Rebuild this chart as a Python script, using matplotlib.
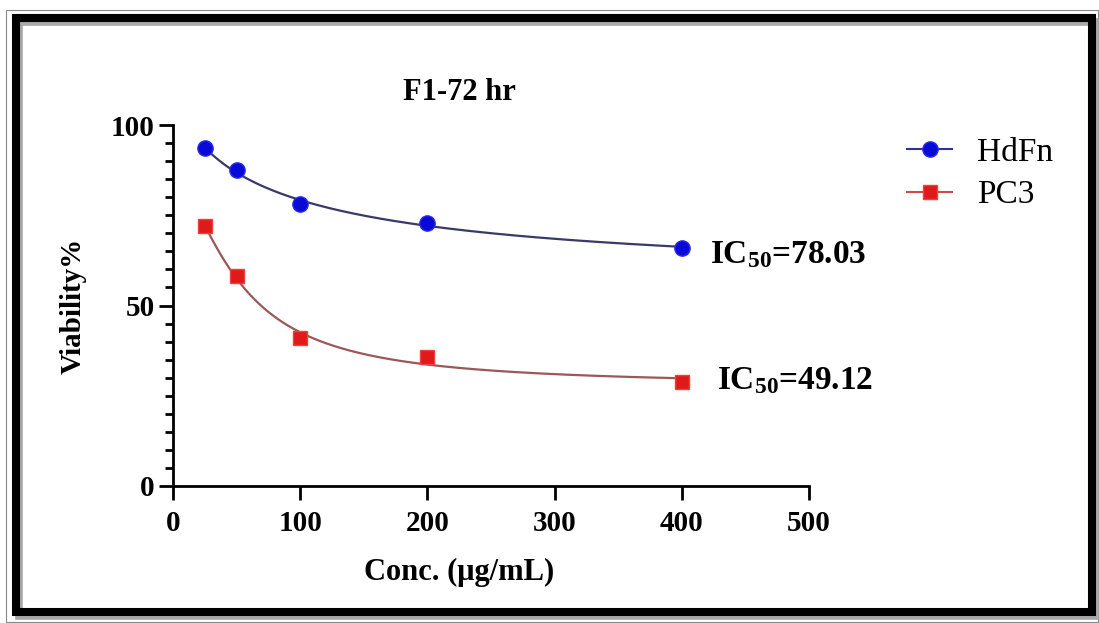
import matplotlib
matplotlib.use("Agg")
import matplotlib.pyplot as plt
from matplotlib.patches import Rectangle
from matplotlib.lines import Line2D
import numpy as np

# data
conc = [25, 50, 100, 200, 400]
hdfn = [93.6, 87.5, 78.1, 72.9, 66.0]
pc3 = [72.0, 58.2, 41.0, 35.7, 28.8]
ic50_hdfn = "78.03"
ic50_pc3 = "49.12"
xticks = [0, 100, 200, 300, 400, 500]
yticks = [0, 50, 100]

plt.rcParams['font.family'] = ['Liberation Serif', 'DejaVu Serif']
plt.rcParams['mathtext.fontset'] = 'custom'
plt.rcParams['mathtext.rm'] = 'Liberation Serif:bold'
plt.rcParams['mathtext.it'] = 'Liberation Serif:bold'
plt.rcParams['mathtext.bf'] = 'Liberation Serif:bold'


def fit_curve(x, y):
    # y = a + b/(1+(x/c)^h); c, h by grid search, a, b by least squares
    x = np.asarray(x, float)
    y = np.asarray(y, float)
    best = None
    for c in np.linspace(5, 400, 200):
        for h in np.linspace(0.5, 3, 51):
            A = np.column_stack([np.ones_like(x), 1 / (1 + (x / c) ** h)])
            coef, _, _, _ = np.linalg.lstsq(A, y, rcond=None)
            sse = np.sum((A @ coef - y) ** 2)
            if best is None or sse < best[0]:
                best = (sse, coef, c, h)
    _, (a, b), c, h = best
    xs = np.linspace(x.min(), x.max(), 300)
    return xs, a + b / (1 + (xs / c) ** h)


W, H = 1099, 623
fig = plt.figure(figsize=(W / 100, H / 100), dpi=100)
fig.patch.set_facecolor('white')

# outer thin line, shadow and thick frame
fig.add_artist(Rectangle((6 / W, 1 - 622 / H), 1092 / W, 612 / H, transform=fig.transFigure,
                         fill=False, ec='#8a8a8a', lw=0.8))
fig.add_artist(Rectangle((19 / W, 1 - 616 / H), 1076 / W, 594 / H, transform=fig.transFigure,
                         fill=False, ec='#a8a8a8', lw=5.5))
fig.add_artist(Rectangle((16 / W, 1 - 612 / H), 1076 / W, 594 / H, transform=fig.transFigure,
                         fill=False, ec='black', lw=5.8))

ax = fig.add_axes([173 / W, 1 - 486 / H, 636 / W, 361 / H])
ax.set_xlim(0, 500)
ax.set_ylim(0, 100)
ax.spines['top'].set_visible(False)
ax.spines['right'].set_visible(False)
ax.spines['left'].set_linewidth(2.0)
ax.spines['bottom'].set_linewidth(2.0)

ax.set_xticks(xticks)
ax.set_yticks(yticks)
ax.set_yticks(np.arange(0, 101, 5), minor=True)
ax.tick_params(axis='y', which='major', length=10, width=2, pad=3, labelsize=21)
ax.tick_params(axis='y', which='minor', length=6, width=2)
ax.tick_params(axis='x', which='major', length=10, width=2, pad=7, labelsize=21)
for lab in ax.get_xticklabels() + ax.get_yticklabels():
    lab.set_fontweight('bold')

# fitted curves
xs, ys = fit_curve(conc, hdfn)
ax.plot(xs, ys, color='#3a3a6a', lw=1.6, zorder=2)
xs, ys = fit_curve(conc, pc3)
ax.plot(xs, ys, color='#9a5858', lw=1.6, zorder=2)

ax.plot(conc, hdfn, 'o', ms=11, mfc='#0a0ad8', mec='#2a2ae8', mew=1, ls='none', zorder=3)
ax.plot(conc, pc3, 's', ms=10.5, mfc='#e01a1a', mec='#f04040', mew=1, ls='none', zorder=3)

ax.annotate('IC$_{50}$=' + ic50_hdfn, xy=(conc[-1], hdfn[-1]), xytext=(20, -5),
            textcoords='offset points', va='center', ha='left', fontsize=24, fontweight='bold')
ax.annotate('IC$_{50}$=' + ic50_pc3, xy=(conc[-1], pc3[-1]), xytext=(25, 1),
            textcoords='offset points', va='center', ha='left', fontsize=24, fontweight='bold')

ax.text(0.45, 1.091, 'F1-72 hr', transform=ax.transAxes, ha='center', va='center',
        fontsize=22, fontweight='bold')
ax.set_ylabel('Viability%', fontsize=21, fontweight='bold')
ax.yaxis.set_label_coords(-0.157, 0.5)
ax.set_xlabel('Conc. (\u03bcg/mL)', fontsize=22, fontweight='bold')
ax.xaxis.set_label_coords(0.45, -0.24)
ax.xaxis.label.set_va('center')
ax.yaxis.label.set_va('center')

handles = [Line2D([], [], color='#3030a0', lw=1.5, marker='o', ms=11, mfc='#0a0ad8', mec='#2a2ae8'),
           Line2D([], [], color='#d04a4a', lw=1.5, marker='s', ms=10.5, mfc='#e01a1a', mec='#f04040')]
fig.legend(handles, ['HdFn', 'PC3'], loc='center left', bbox_to_anchor=(907 / W, 1 - 174 / H),
           frameon=False, fontsize=24, handlelength=1.35, handletextpad=0.75, labelspacing=0.35,
           borderpad=0, borderaxespad=0)

fig.savefig('out.png', dpi=100)
